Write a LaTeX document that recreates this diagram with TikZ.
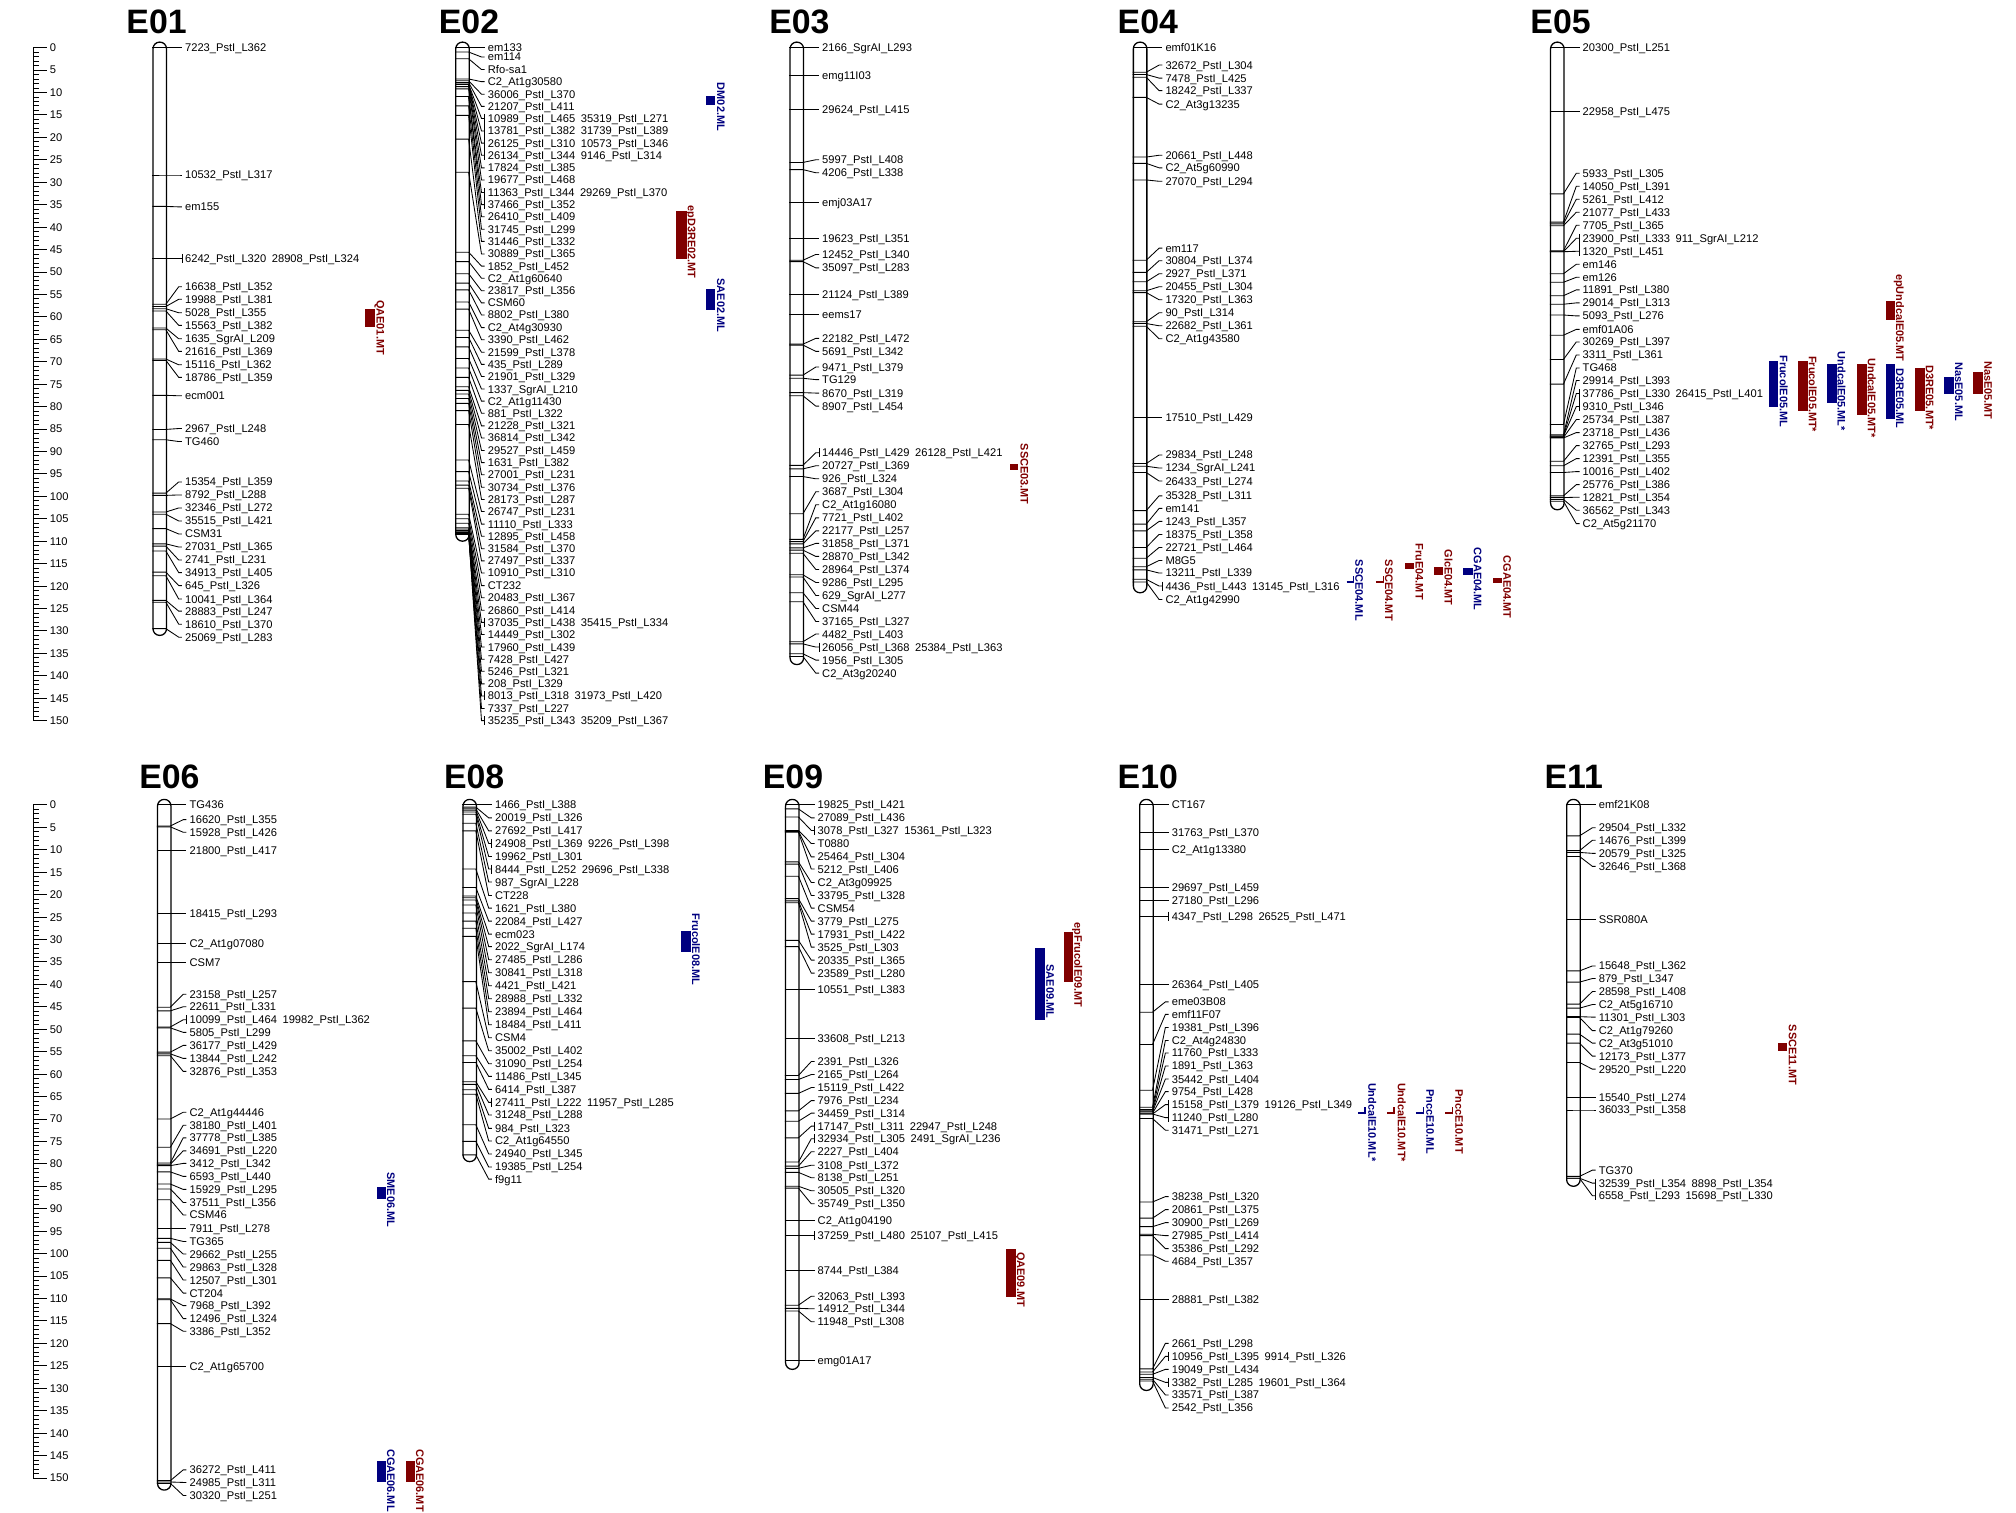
\documentclass[tikz,border=0pt]{standalone}
\usepackage{fontspec}
\setmainfont{Liberation Sans}
\definecolor{qred}{RGB}{128,0,0}
\definecolor{qblue}{RGB}{0,0,128}
\tikzset{
  chromo/.style={draw, rectangle, rounded corners=3.1pt, minimum width=6.3pt, inner sep=0pt, line width=0.6pt, anchor=north west},
  mk/.style={line width=0.4pt},
  mlabel/.style={anchor=west, inner sep=0pt, outer sep=1.5pt, font=\fontsize{5.2}{6}\selectfont, text height=3.7pt, text depth=0pt},
  ctitle/.style={anchor=west, inner sep=0pt, font=\fontsize{15.8}{18}\selectfont\bfseries, text height=11.3pt, text depth=0pt},
  qlab/.style={anchor=south west, rotate=-90, inner sep=0pt, font=\fontsize{5.1}{6}\selectfont\bfseries, text height=3.65pt, text depth=0pt},
  rl/.style={line width=0.4pt},
  rlab/.style={anchor=west, inner sep=0pt, font=\fontsize{5.2}{6}\selectfont, text height=3.7pt, text depth=0pt},
}
\newcommand\chr[5]{%
  \node[chromo, minimum height={(#4*3.49+9.5)*0.6}] (#1) at (#2,#3-4.75) {};
  \foreach \tk/\lb/\tx [count=\i] in {#5} {%
    \coordinate (#1t\i) at (#2,#3+3.49*\tk);
    \node[mlabel] (#1l\i) at (#2+23,#3+3.49*\lb) {\tx};
    \draw[mk] (#1t\i) -- ++(10.5,0) -- ([xshift=-1.5pt]#1l\i.west) -- (#1l\i.west);
  }%
}
\newcommand\pipe[1]{\draw[mk] ([yshift=2.1pt]#1.west) -- ([yshift=-2.1pt]#1.west);}
\newcommand\pbar[2]{\draw[mk] ([yshift=2.1pt]#1.west) -- ([yshift=-2.1pt]#2.west);}
\newcommand\qtl[9]{%
  \fill[#2] (#3,\rowy+3.49*#5) rectangle (#4,\rowy+3.49*#6);
  \node[qlab,text=#2] (#1) at (#7,\rowy+3.49*#8) {#9};
}
\newcommand\qtlthin[8]{%
  \draw[#2,line width=0.9pt] (#3,\rowy+3.49*#5) -- (#4,\rowy+3.49*#5);
  \draw[#2,line width=0.6pt] (#4,\rowy+3.49*#5+1) -- ++(0,-6);
  \node[qlab,text=#2] (#1) at (#6,\rowy+3.49*#7) {#8};
}
\newcommand\ruler[2]{%
  \draw[rl] (26,#2) -- (26,#2+523.5);
  \foreach \rv in {0,...,150} {\draw[rl] (26,#2+3.49*\rv) -- ++(4.7,0);}
  \foreach \rv in {0,5,...,150} {\draw[rl] (26,#2+3.49*\rv) -- ++(10.4,0);
     \node[rlab] (#1n\rv) at (38.5,#2+3.49*\rv) {\rv};}
}
\begin{document}
\catcode`\_=12
\begin{tikzpicture}[x=0.6pt,y=-0.6pt]
\useasboundingbox (0,0) rectangle (1568,1176);
\fill[white] (0,0) rectangle (1568,1176);

\ruler{RA}{37}
\ruler{RB}{626}

% titles
\node[ctitle] (T01) at (98,16.5) {E01};
\node[ctitle] (T02) at (341,16.5) {E02};
\node[ctitle] (T03) at (598,16.5) {E03};
\node[ctitle] (T04) at (869,16.5) {E04};
\node[ctitle] (T05) at (1190,16.5) {E05};
\node[ctitle] (T06) at (108,603.5) {E06};
\node[ctitle] (T08) at (345,603.5) {E08};
\node[ctitle] (T09) at (593,603.5) {E09};
\node[ctitle] (T10) at (869,603.5) {E10};
\node[ctitle] (T11) at (1201,603.5) {E11};

% E01
\chr{E01}{118.5}{37}{129.5}{0/0/7223_PstI_L362, 28.4/28.4/10532_PstI_L317, 35.4/35.5/em155, 47/47/6242_PstI_L320\enspace 28908_PstI_L324, 57.2/53.3/16638_PstI_L352, 57.7/56.1/19988_PstI_L381, 58.2/59.1/5028_PstI_L355, 58.7/61.9/15563_PstI_L382, 62.5/64.9/1635_SgrAI_L209, 62.9/67.7/21616_PstI_L369, 69.4/70.7/15116_PstI_L362, 69.7/73.5/18786_PstI_L359, 77.5/77.6/ecm001, 85.1/84.9/2967_PstI_L248, 87.4/87.8/TG460, 99.3/96.8/15354_PstI_L359, 99.8/99.7/8792_PstI_L288, 103.5/102.6/32346_PstI_L272, 104/105.5/35515_PstI_L421, 107.2/108.4/CSM31, 110.6/111.3/27031_PstI_L365, 111.1/114.2/2741_PstI_L231, 112.2/117/34913_PstI_L405, 116.9/119.9/645_PstI_L326, 117.7/122.9/10041_PstI_L364, 123.2/125.6/28883_PstI_L247, 123.6/128.5/18610_PstI_L370, 129.5/131.4/25069_PstI_L283}
\pipe{E01l4}

% E02
\chr{E02}{354}{37}{108.5}{0/0/em133, 1/2.1/em114, 2.5/4.9/Rfo-sa1, 7/7.6/C2_At1g30580, 7.4/10.4/36006_PstI_L370, 7.8/13.1/21207_PstI_L411, 8.2/15.8/10989_PstI_L465\enspace 35319_PstI_L271, 8.2/18.6/13781_PstI_L382\enspace 31739_PstI_L389, 8.2/21.3/26125_PstI_L310\enspace 10573_PstI_L346, 8.2/24/26134_PstI_L344\enspace 9146_PstI_L314, 8.7/26.8/17824_PstI_L385, 9.2/29.5/19677_PstI_L468, 10.9/32.3/11363_PstI_L344\enspace 29269_PstI_L370, 10.9/35/37466_PstI_L352, 13/37.7/26410_PstI_L409, 15.1/40.5/31745_PstI_L299, 20.4/43.2/31446_PstI_L332, 27.8/46/30889_PstI_L365, 45.6/48.7/1852_PstI_L452, 47.7/51.4/C2_At1g60640, 50.4/54.2/23817_PstI_L356, 52.5/56.9/CSM60, 54/59.6/8802_PstI_L380, 56.7/62.4/C2_At4g30930, 58.3/65.1/3390_PstI_L462, 63/67.9/21599_PstI_L378, 64.6/70.6/435_PstI_L289, 66.7/73.3/21901_PstI_L329, 69.3/76.1/1337_SgrAI_L210, 71.4/78.8/C2_At1g11430, 73.5/81.5/881_PstI_L322, 75.6/84.3/21228_PstI_L321, 76.4/87/36814_PstI_L342, 77.2/89.8/29527_PstI_L459, 78.2/92.5/1631_PstI_L382, 79.3/95.2/27001_PstI_L231, 80.9/98/30734_PstI_L376, 84/100.7/28173_PstI_L287, 91.9/103.4/26747_PstI_L231, 94.5/106.2/11110_PstI_L333, 96.6/108.9/12895_PstI_L458, 97.5/111.7/31584_PstI_L370, 98.2/114.4/27497_PstI_L337, 104/117.1/10910_PstI_L310, 105/119.9/CT232, 106/122.6/20483_PstI_L367, 107/125.4/26860_PstI_L414, 107.3/128.1/37035_PstI_L438\enspace 35415_PstI_L334, 107.6/130.8/14449_PstI_L302, 107.9/133.6/17960_PstI_L439, 108.1/136.3/7428_PstI_L427, 108.3/139/5246_PstI_L321, 108.5/141.8/208_PstI_L329, 108.5/144.5/8013_PstI_L318\enspace 31973_PstI_L420, 108.5/147.3/7337_PstI_L227, 108.5/150/35235_PstI_L343\enspace 35209_PstI_L367}
\pbar{E02l7}{E02l10}
\pbar{E02l13}{E02l14}
\pipe{E02l48}
\pipe{E02l54}
\pipe{E02l56}

% E03
\chr{E03}{614}{37}{136}{0/0/2166_SgrAI_L293, 6.2/6.2/emg11I03, 13.8/13.8/29624_PstI_L415, 25.6/25/5997_PstI_L408, 27.2/27.9/4206_PstI_L338, 34.5/34.5/emj03A17, 42.5/42.5/19623_PstI_L351, 47.4/46.1/12452_PstI_L340, 47.7/49.1/35097_PstI_L283, 55/55/21124_PstI_L389, 59.4/59.4/eems17, 66.1/64.8/22182_PstI_L472, 66.3/67.7/5691_PstI_L342, 73/71.2/9471_PstI_L379, 73.7/74/TG129, 76.9/77/8670_PstI_L319, 77.6/79.9/8907_PstI_L454, 93.1/90.3/14446_PstI_L429\enspace 26128_PstI_L421, 93.9/93.2/20727_PstI_L369, 95.6/96.1/926_PstI_L324, 103.9/99/3687_PstI_L304, 109.6/101.9/C2_At1g16080, 110.1/104.8/7721_PstI_L402, 110.6/107.7/22177_PstI_L257, 111.5/110.5/31858_PstI_L371, 112/113.4/28870_PstI_L342, 112.7/116.3/28964_PstI_L374, 117.5/119.2/9286_PstI_L295, 118/122.1/629_SgrAI_L277, 121.5/125/CSM44, 123.5/127.9/37165_PstI_L327, 132.4/130.7/4482_PstI_L403, 132.9/133.6/26056_PstI_L368\enspace 25384_PstI_L363, 135.1/136.5/1956_PstI_L305, 135.7/139.4/C2_At3g20240}
\pipe{E03l18}
\pipe{E03l33}

% E04
\chr{E04}{881}{37}{120}{0/0/emf01K16, 5.5/3.9/32672_PstI_L304, 6/6.8/7478_PstI_L425, 6.6/9.6/18242_PstI_L337, 11.1/12.6/C2_At3g13235, 24.4/24/20661_PstI_L448, 25.8/26.8/C2_At5g60990, 29.5/29.8/27070_PstI_L294, 47.4/44.7/em117, 50.1/47.5/30804_PstI_L374, 52.2/50.4/2927_PstI_L371, 54.2/53.3/20455_PstI_L304, 54.6/56.2/17320_PstI_L363, 61.1/59.1/90_PstI_L314, 61.5/62/22682_PstI_L361, 62.1/64.9/C2_At1g43580, 82.5/82.5/17510_PstI_L429, 92.7/90.8/29834_PstI_L248, 93.3/93.7/1234_SgrAI_L241, 94.7/96.6/26433_PstI_L274, 103.2/99.9/35328_PstI_L311, 106.2/102.7/em141, 107.7/105.6/1243_PstI_L357, 111.4/108.5/18375_PstI_L358, 113.8/111.4/22721_PstI_L464, 115.7/114.3/M8G5, 116.4/117.1/13211_PstI_L339, 118.5/120/4436_PstI_L443\enspace 13145_PstI_L316, 119.1/123/C2_At1g42990}
\pipe{E04l28}

% E05
\chr{E05}{1205.5}{37}{101.5}{0/0/20300_PstI_L251, 14.2/14.2/22958_PstI_L475, 32.6/28/5933_PstI_L305, 38.9/30.9/14050_PstI_L391, 39.3/33.8/5261_PstI_L412, 39.7/36.7/21077_PstI_L433, 45.3/39.6/7705_PstI_L365, 45.5/42.5/23900_PstI_L333\enspace 911_SgrAI_L212, 45.5/45.4/1320_PstI_L451, 50.4/48.3/em146, 52.3/51.2/em126, 55.3/54/11891_PstI_L380, 57.2/56.9/29014_PstI_L313, 59.6/59.8/5093_PstI_L276, 64.1/62.8/emf01A06, 69.5/65.6/30269_PstI_L397, 75/68.5/3311_PstI_L361, 84/71.4/TG468, 86.3/74.2/29914_PstI_L393, 86.6/77.1/37786_PstI_L330\enspace 26415_PstI_L401, 86.6/80/9310_PstI_L346, 86.9/82.9/25734_PstI_L387, 87/85.8/23718_PstI_L436, 92.2/88.7/32765_PstI_L293, 93.2/91.6/12391_PstI_L355, 94.7/94.5/10016_PstI_L402, 99.9/97.4/25776_PstI_L386, 100.3/100.2/12821_PstI_L354, 100.7/103.1/36562_PstI_L343, 101.1/106.1/C2_At5g21170}
\pbar{E05l8}{E05l9}
\pbar{E05l20}{E05l21}

% E06
\chr{E06}{122}{626}{151.2}{0/0/TG436, 4.7/3.3/16620_PstI_L355, 4.9/6.1/15928_PstI_L426, 10.1/10.1/21800_PstI_L417, 24.3/24.3/18415_PstI_L293, 30.8/30.8/C2_At1g07080, 35.2/35.2/CSM7, 45.1/42.2/23158_PstI_L257, 45.9/45/22611_PstI_L331, 49.5/47.9/10099_PstI_L464\enspace 19982_PstI_L362, 49.7/50.7/5805_PstI_L299, 55.1/53.6/36177_PstI_L429, 55.5/56.5/13844_PstI_L242, 55.9/59.4/32876_PstI_L353, 70/68.5/C2_At1g44446, 76.3/71.4/38180_PstI_L401, 79.8/74.2/37778_PstI_L385, 80.1/77.1/34691_PstI_L220, 80.4/79.9/3412_PstI_L342, 81.8/82.8/6593_PstI_L440, 84.5/85.7/15929_PstI_L295, 85.6/88.6/37511_PstI_L356, 88/91.4/CSM46, 94.4/94.4/7911_PstI_L278, 96.6/97.3/TG365, 97.5/100.1/29662_PstI_L255, 98.8/103/29863_PstI_L328, 101.5/105.9/12507_PstI_L301, 105.4/108.8/CT204, 110.1/111.6/7968_PstI_L392, 110.3/114.5/12496_PstI_L324, 115.6/117.3/3386_PstI_L352, 125.1/125.1/C2_At1g65700, 150.6/148.2/36272_PstI_L411, 150.9/151/24985_PstI_L311, 151.2/153.9/30320_PstI_L251}
\pipe{E06l10}

% E08
\chr{E08}{359.6}{626}{78}{0/0/1466_PstI_L388, 0.5/2.9/20019_PstI_L326, 0.9/5.8/27692_PstI_L417, 1.2/8.6/24908_PstI_L369\enspace 9226_PstI_L398, 1.6/11.5/19962_PstI_L301, 2.1/14.3/8444_PstI_L252\enspace 29696_PstI_L338, 4.1/17.2/987_SgrAI_L228, 5.8/20.2/CT228, 14.3/23/1621_PstI_L380, 18.4/25.9/22084_PstI_L427, 20.3/28.8/ecm023, 20.7/31.6/2022_SgrAI_L174, 21.2/34.5/27485_PstI_L286, 22.3/37.4/30841_PstI_L318, 24.1/40.3/4421_PstI_L421, 25.9/43.2/28988_PstI_L332, 27.5/46.1/23894_PstI_L464, 29.3/49/18484_PstI_L411, 39.4/51.9/CSM4, 45.3/54.8/35002_PstI_L402, 52.6/57.7/31090_PstI_L254, 55.9/60.5/11486_PstI_L345, 57.4/63.4/6414_PstI_L387, 61.7/66.3/27411_PstI_L222\enspace 11957_PstI_L285, 62.3/69.1/31248_PstI_L288, 63.5/72.1/984_PstI_L323, 64.5/74.9/C2_At1g64550, 71.3/77.8/24940_PstI_L345, 75/80.7/19385_PstI_L254, 78/83.4/f9g11}
\pipe{E08l4}
\pipe{E08l6}
\pipe{E08l24}

% E09
\chr{E09}{610.5}{626}{124.3}{0/0/19825_PstI_L421, 0.9/2.9/27089_PstI_L436, 2.7/5.7/3078_PstI_L327\enspace 15361_PstI_L323, 5.7/8.6/T0880, 5.9/11.6/25464_PstI_L304, 6.1/14.3/5212_PstI_L406, 12.7/17.3/C2_At3g09925, 13.2/20.2/33795_PstI_L328, 15.9/23/CSM54, 20.9/25.9/3779_PstI_L275, 21.4/28.8/17931_PstI_L422, 21.8/31.7/3525_PstI_L303, 30.2/34.6/20335_PstI_L365, 31.6/37.5/23589_PstI_L280, 41.1/41.1/10551_PstI_L383, 52.1/52.1/33608_PstI_L213, 60.3/57.2/2391_PstI_L326, 61.2/60.1/2165_PstI_L264, 64.3/63/15119_PstI_L422, 68.2/65.9/7976_PstI_L234, 70.5/68.7/34459_PstI_L314, 74.2/71.6/17147_PstI_L311\enspace 22947_PstI_L248, 79.6/74.4/32934_PstI_L305\enspace 2491_SgrAI_L236, 80.5/77.3/2227_PstI_L404, 81/80.3/3108_PstI_L372, 81.9/83.1/8138_PstI_L251, 85/86/30505_PstI_L320, 85.4/88.9/35749_PstI_L350, 92.6/92.6/C2_At1g04190, 96/96/37259_PstI_L480\enspace 25107_PstI_L415, 103.8/103.8/8744_PstI_L384, 111.5/109.5/32063_PstI_L393, 112.2/112.3/14912_PstI_L344, 112.8/115.2/11948_PstI_L308, 123.8/123.8/emg01A17}
\pipe{E09l3}
\pipe{E09l22}
\pipe{E09l23}
\pipe{E09l30}

% E10
\chr{E10}{885.9}{626}{129}{0/0/CT167, 6.2/6.2/31763_PstI_L370, 10/10/C2_At1g13380, 18.5/18.5/29697_PstI_L459, 21.4/21.4/27180_PstI_L296, 24.8/24.8/4347_PstI_L298\enspace 26525_PstI_L471, 40.1/40.1/26364_PstI_L405, 46.2/43.9/eme03B08, 53.4/46.7/emf11F07, 63.6/49.6/19381_PstI_L396, 67.4/52.5/C2_At4g24830, 67.9/55.3/11760_PstI_L333, 68.2/58.2/1891_PstI_L363, 68.4/61.1/35442_PstI_L404, 68.7/63.9/9754_PstI_L428, 68.9/66.8/15158_PstI_L379\enspace 19126_PstI_L349, 68.9/69.7/11240_PstI_L280, 69.9/72.5/31471_PstI_L271, 88.5/87.3/38238_PstI_L320, 92.1/90.2/20861_PstI_L375, 94/93.1/30900_PstI_L269, 95.7/96/27985_PstI_L414, 96/98.9/35386_PstI_L292, 100.3/101.7/4684_PstI_L357, 110.2/110.2/28881_PstI_L382, 125.7/120/2661_PstI_L298, 126.4/122.9/10956_PstI_L395\enspace 9914_PstI_L326, 126.9/125.8/19049_PstI_L434, 127.6/128.7/3382_PstI_L285\enspace 19601_PstI_L364, 128/131.5/33571_PstI_L387, 128.4/134.4/2542_PstI_L356}
\pipe{E10l6}
\pbar{E10l16}{E10l17}
\pipe{E10l27}
\pipe{E10l29}

% E11
\chr{E11}{1218}{626}{83.5}{0/0/emf21K08, 6.9/5.1/29504_PstI_L332, 10.2/7.9/14676_PstI_L399, 10.6/10.8/20579_PstI_L325, 11.5/13.7/32646_PstI_L368, 25.6/25.6/SSR080A, 37/35.9/15648_PstI_L362, 39.5/38.7/879_PstI_L347, 44.4/41.6/28598_PstI_L408, 45.3/44.5/C2_At5g16710, 47.2/47.3/11301_PstI_L303, 47.4/50.3/C2_At1g79260, 51.1/53.1/C2_At3g51010, 53.1/56/12173_PstI_L377, 57.4/58.9/29520_PstI_L220, 65.2/65.2/15540_PstI_L274, 68/68/36033_PstI_L358, 82.8/81.4/TG370, 83.2/84.3/32539_PstI_L354\enspace 8898_PstI_L354, 83.2/87.1/6558_PstI_L293\enspace 15698_PstI_L330}
\pbar{E11l19}{E11l20}

% QTLs top row
\def\rowy{37}
\qtl{QAE01MT}{qred}{283.9}{291.7}{58.3}{62.2}{292.5}{56.2}{QAE01.MT}
\qtl{DM02ML}{qblue}{549.2}{556.2}{10.9}{12.7}{557.5}{7.8}{DM02.ML}
\qtl{epD3RE02MT}{qred}{525.8}{534.1}{36.4}{47.2}{534.6}{35.1}{epD3RE02.MT}
\qtl{SAE02ML}{qblue}{549.2}{556.4}{53.7}{58.5}{557.5}{51.4}{SAE02.ML}
\qtl{SSCE03MT}{qred}{785.6}{791.6}{92.8}{94.1}{793.4}{88.2}{SSCE03.MT}
\qtlthin{SSCE04ML}{qblue}{1047.4}{1052.6}{119.1}{1053.9}{114.1}{SSCE04.ML}
\qtlthin{SSCE04MT}{qred}{1070.2}{1076}{119.1}{1077}{114.1}{SSCE04.MT}
\qtl{FruE04MT}{qred}{1092.8}{1099.8}{114.8}{116.1}{1100.6}{110.5}{FruE04.MT}
\qtl{GlcE04MT}{qred}{1115.6}{1122.6}{115.7}{117.6}{1123.2}{111.8}{GlcE04.MT}
\qtl{CGAE04ML}{qblue}{1138.2}{1145.4}{115.9}{117.6}{1146}{111.4}{CGAE04.ML}
\qtl{CGAE04MT}{qred}{1161}{1168}{118.3}{119.4}{1169}{113.2}{CGAE04.MT}
\qtl{FrucolE05ML}{qblue}{1376.2}{1383.2}{69.8}{80}{1384}{68.5}{FrucolE05.ML}
\qtl{FrucolE05MT}{qred}{1398.7}{1406}{69.8}{80.9}{1406.5}{68.7}{FrucolE05.MT*}
\qtl{UndcalE05ML}{qblue}{1421.3}{1428.5}{70.5}{79.2}{1429}{67.7}{UndcalE05.ML*}
\qtl{UndcalE05MT}{qred}{1444.6}{1451.9}{70.5}{81.9}{1452.5}{69.2}{UndcalE05.MT*}
\qtl{epUndcalE05MT}{qred}{1466.6}{1473.9}{56.4}{60.8}{1474.5}{50.4}{epUndcalE05.MT}
\qtl{D3RE05ML}{qblue}{1466.9}{1473.9}{70.5}{82.8}{1474.5}{71.4}{D3RE05.ML}
\qtl{D3RE05MT}{qred}{1489.7}{1497.2}{71.5}{81.1}{1497.5}{70.8}{D3RE05.MT*}
\qtl{NasE05ML}{qblue}{1512}{1519.8}{73.4}{77.3}{1520.3}{70.1}{NasE05.ML}
\qtl{NasE05MT}{qred}{1534.9}{1542.6}{72.4}{77.3}{1543}{69.8}{NasE05.MT}

% QTLs bottom row
\def\rowy{626}
\qtl{SME06ML}{qblue}{293}{300.3}{85.1}{87.8}{300.8}{81.8}{SME06.ML}
\qtl{CGAE06ML}{qblue}{293}{300.3}{146.2}{150.9}{300.8}{143.5}{CGAE06.ML}
\qtl{CGAE06MT}{qred}{315.6}{322.8}{146.2}{150.9}{323.3}{143.5}{CGAE06.MT}
\qtl{FrucolE08ML}{qblue}{529.4}{537.2}{28.2}{32.8}{538}{24.1}{FrucolE08.ML}
\qtl{epFrucolE09MT}{qred}{827.8}{834.8}{28.4}{39.4}{835.3}{26.2}{epFrucolE09.MT}
\qtl{SAE09ML}{qblue}{805}{812.8}{31.8}{48}{813.5}{35.5}{SAE09.ML}
\qtl{QAE09MT}{qred}{782.4}{790}{98.9}{109.6}{790.7}{99.6}{QAE09.MT}
\qtlthin{UndcalE10ML}{qblue}{1056.5}{1061.7}{68.7}{1064}{61.9}{UndcalE10.ML*}
\qtlthin{UndcalE10MT}{qred}{1079}{1084.2}{68.7}{1086.8}{61.9}{UndcalE10.MT*}
\qtlthin{PnccE10ML}{qblue}{1101.3}{1107}{68.7}{1109}{63.3}{PnccE10.ML}
\qtlthin{PnccE10MT}{qred}{1123.9}{1129.9}{68.7}{1131.7}{63.3}{PnccE10.MT}
\qtl{SSCE11MT}{qred}{1383.2}{1389.6}{53.1}{54.8}{1391}{48.9}{SSCE11.MT}
\end{tikzpicture}
\end{document}
